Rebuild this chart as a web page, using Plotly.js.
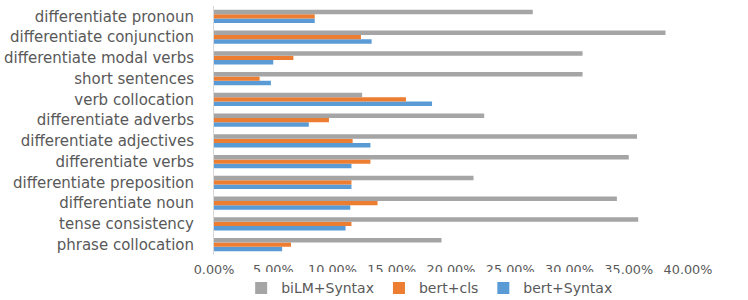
<!DOCTYPE html>
<html>
<head>
<meta charset="utf-8">
<script src="https://cdn.plot.ly/plotly-3.0.1.min.js"></script>
<style>html,body{margin:0;padding:0;background:#fff;}#chart{width:748px;height:300px;}</style>
</head>
<body>
<div id="chart"></div>
<script>
const categories = [
  "phrase collocation",
  "tense consistency",
  "differentiate noun",
  "differentiate preposition",
  "differentiate verbs",
  "differentiate adjectives",
  "differentiate adverbs",
  "verb collocation",
  "short sentences",
  "differentiate modal verbs",
  "differentiate conjunction",
  "differentiate pronoun"
];
const biLMSyntax = [0.192, 0.358, 0.340, 0.219, 0.350, 0.357, 0.228, 0.125, 0.311, 0.311, 0.381, 0.269];
const bertCls    = [0.065, 0.116, 0.138, 0.116, 0.132, 0.117, 0.097, 0.162, 0.0385, 0.067, 0.124, 0.085];
const bertSyntax = [0.0575, 0.111, 0.115, 0.116, 0.116, 0.132, 0.080, 0.184, 0.048, 0.050, 0.133, 0.085];
const tickVals = [0, 0.05, 0.10, 0.15, 0.20, 0.25, 0.30, 0.35, 0.40];
const tickText = ["0.00%", "5.00%", "10.00%", "15.00%", "20.00%", "25.00%", "30.00%", "35.00%", "40.00%"];

const font = {family: "DejaVu Sans, sans-serif", color: "#595959"};
const traces = [
  {name: "bert+Syntax", x: bertSyntax, y: categories, marker: {color: "#5b9bd5"}},
  {name: "bert+cls", x: bertCls, y: categories, marker: {color: "#ed7d31"}},
  {name: "biLM+Syntax", x: biLMSyntax, y: categories, marker: {color: "#a5a5a5"}}
].map(t => Object.assign({type: "bar", orientation: "h", hoverinfo: "x+y+name"}, t));

const layout = {
  width: 748, height: 300,
  margin: {l: 214, r: 60, t: 6, b: 45, autoexpand: false},
  paper_bgcolor: "#fff", plot_bgcolor: "#fff",
  barmode: "group", bargap: 0.36, bargroupgap: 0,
  font: Object.assign({size: 12}, font),
  showlegend: true,
  legend: {orientation: "h", traceorder: "reversed", x: 0.455, xanchor: "center", y: -0.07, yanchor: "top",
           font: Object.assign({size: 14}, font)},
  xaxis: {range: [0, 0.40], tickvals: tickVals, ticktext: tickText, showgrid: false, zeroline: false,
          showline: false, ticks: "", ticklabelstandoff: 5, tickfont: Object.assign({size: 12.8}, font), fixedrange: true},
  yaxis: {type: "category", categoryorder: "array", categoryarray: categories, range: [-0.5, 11.5],
          showgrid: false, zeroline: false, showline: true, linecolor: "#d9d9d9", linewidth: 1,
          ticks: "", tickfont: Object.assign({size: 15}, font), ticklabelstandoff: 16, fixedrange: true}
};
Plotly.newPlot("chart", traces, layout, {displayModeBar: false, staticPlot: true});
</script>
</body>
</html>
